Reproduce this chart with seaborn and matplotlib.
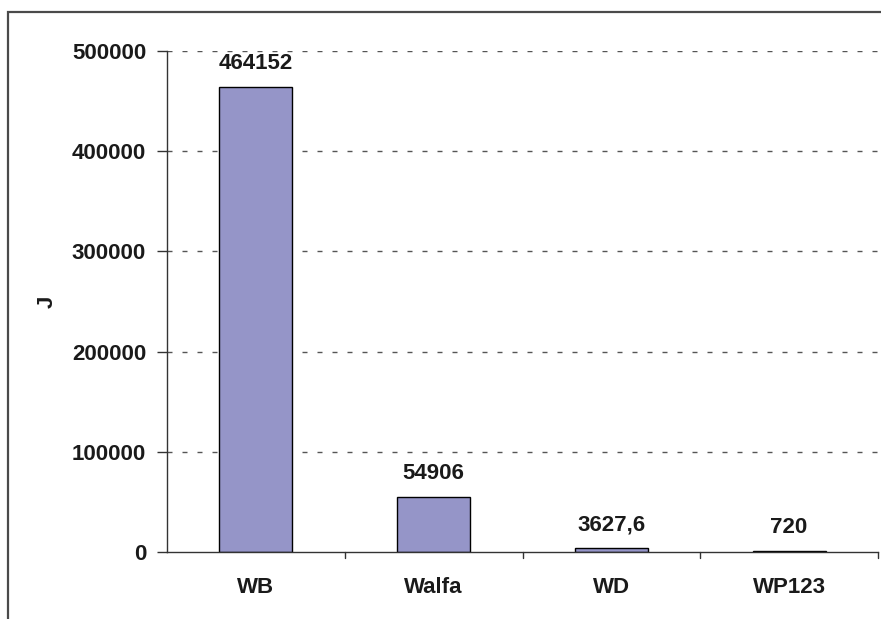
import matplotlib
matplotlib.use("Agg")
import matplotlib.pyplot as plt
from matplotlib.patches import Rectangle
import seaborn as sns
import pandas as pd

categories = ["WB", "Walfa", "WD", "WP123"]
values = [464152, 54906, 3627.6, 720]
value_labels = ["464152", "54906", "3627,6", "720"]
y_ticks = [0, 100000, 200000, 300000, 400000, 500000]

sns.set_theme(style="white")
plt.rcParams["font.family"] = ["Liberation Sans", "DejaVu Sans"]
plt.rcParams["font.weight"] = "bold"

FS = 16
TXT = "#1a1a1a"

W, H = 881, 619
fig = plt.figure(figsize=(W / 100, H / 100), dpi=100)
fig.patch.set_facecolor("white")

# outer chart frame (top and left edges visible)
fig.add_artist(Rectangle((8 / W, -0.1), 1.2, 1.1 - 12 / H,
                         transform=fig.transFigure, fill=False,
                         edgecolor="#4a4a4a", linewidth=1.6))

ax = fig.add_axes([167 / W, 1 - 552 / H, (878 - 167) / W, (552 - 51) / H])
df = pd.DataFrame({"cat": categories, "val": values})
sns.barplot(data=df, x="cat", y="val", ax=ax, color="#9595C8", saturation=1,
            width=0.41, edgecolor="black", linewidth=1)

ax.set_ylim(0, 500000)
ax.set_xlim(-0.5, len(categories) - 0.5)
ax.set_yticks(y_ticks)
ax.set_yticklabels([str(t) for t in y_ticks], fontsize=FS, fontweight="bold",
                   color=TXT)
ax.set_xticks(range(len(categories)))
ax.set_xticklabels(categories, fontsize=FS, fontweight="bold", color=TXT)
ax.tick_params(axis="x", length=0, pad=18)
ax.tick_params(axis="y", length=7, width=1, color="#333333", pad=8, left=True,
               direction="out")
# category boundary ticks on the x axis
for b in [0.5, 1.5, 2.5, 3.5]:
    ax.plot([b, b], [0, -0.012], transform=ax.get_xaxis_transform(),
            color="#333333", lw=1, clip_on=False)

for s in ["top", "right"]:
    ax.spines[s].set_visible(False)
for s in ["left", "bottom"]:
    ax.spines[s].set_color("#333333")
    ax.spines[s].set_linewidth(1)

for t in y_ticks[1:]:
    ax.axhline(t, color="#555555", lw=1, linestyle=(0, (3.6, 7.2)), zorder=0)

for i, (v, lab) in enumerate(zip(values, value_labels)):
    ax.annotate(lab, (i, v), xytext=(0, 9.5), textcoords="offset points",
                ha="center", va="bottom", fontsize=FS, fontweight="bold",
                color=TXT)

ax.set_xlabel("")
ax.set_ylabel("J", fontsize=FS, fontweight="bold", labelpad=10, color=TXT)

fig.savefig("out.png", dpi=100, facecolor="white")
